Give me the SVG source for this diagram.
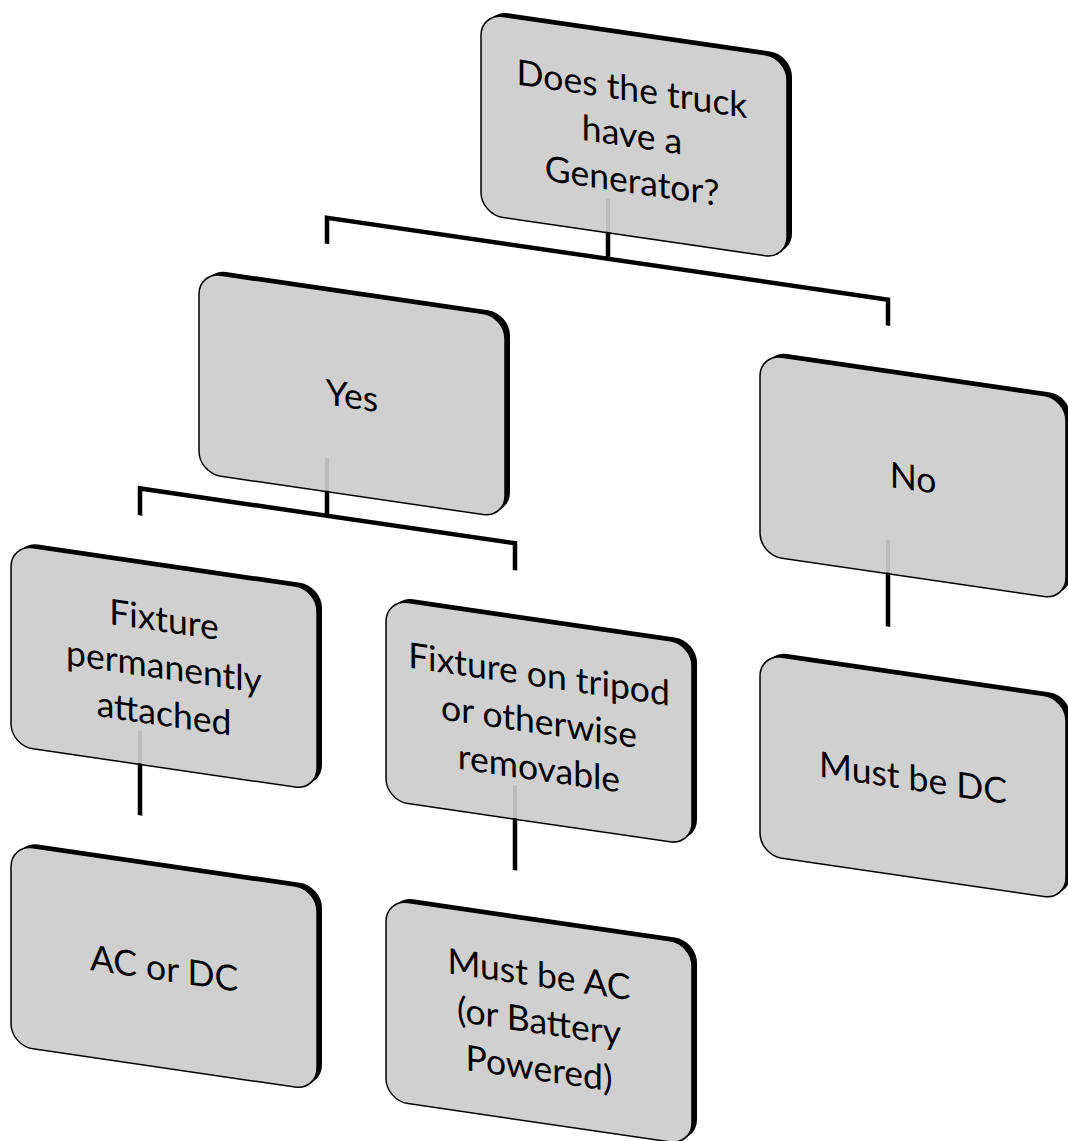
<svg xmlns="http://www.w3.org/2000/svg" width="1068" height="1141" viewBox="0 0 1068 1141">
<style>
.shadow{fill:#000}
.box{fill:#d0d0d0;stroke:#000;stroke-width:1.5}
.lbl{font-family:Lato,"Open Sans",sans-serif;font-size:35.5px;fill:#000;text-anchor:middle}
.conn{stroke:#000;stroke-width:4.5;fill:none;stroke-linejoin:miter}
.stub{stroke:#bcbcbc;stroke-width:4;fill:none}
</style>
<rect x="0" y="0" width="1068" height="1141" fill="#fff"/>
<g transform="skewY(8.31)">
  <g id="n-root">
    <rect class="shadow" x="486" y="-61" width="306" height="201" rx="22"/>
    <rect class="box" x="481" y="-57" width="306" height="201" rx="22"/>
    <text class="lbl" x="632" y="9">Does the truck</text>
    <text class="lbl" x="632" y="55">have a</text>
    <text class="lbl" x="632" y="101">Generator?</text>
  </g>
  <g id="n-yes">
    <rect class="shadow" x="204" y="239" width="306" height="201" rx="22"/>
    <rect class="box" x="199" y="243" width="306" height="201" rx="22"/>
    <text class="lbl" x="352" y="357">Yes</text>
  </g>
  <g id="n-no">
    <rect class="shadow" x="765" y="239" width="306" height="201" rx="22"/>
    <rect class="box" x="760" y="243" width="306" height="201" rx="22"/>
    <text class="lbl" x="913" y="357">No</text>
  </g>
  <g id="n-fixed">
    <rect class="shadow" x="16" y="539" width="306" height="201" rx="22"/>
    <rect class="box" x="11" y="543" width="306" height="201" rx="22"/>
    <text class="lbl" x="164" y="608">Fixture</text>
    <text class="lbl" x="164" y="655">permanently</text>
    <text class="lbl" x="164" y="702">attached</text>
  </g>
  <g id="n-tripod">
    <rect class="shadow" x="391" y="539" width="306" height="201" rx="22"/>
    <rect class="box" x="386" y="543" width="306" height="201" rx="22"/>
    <text class="lbl" x="539" y="608">Fixture on tripod</text>
    <text class="lbl" x="539" y="655">or otherwise</text>
    <text class="lbl" x="539" y="702">removable</text>
  </g>
  <g id="n-mustdc">
    <rect class="shadow" x="765" y="539" width="306" height="201" rx="22"/>
    <rect class="box" x="760" y="543" width="306" height="201" rx="22"/>
    <text class="lbl" x="913" y="657">Must be DC</text>
  </g>
  <g id="n-acdc">
    <rect class="shadow" x="16" y="839" width="306" height="201" rx="22"/>
    <rect class="box" x="11" y="843" width="306" height="201" rx="22"/>
    <text class="lbl" x="164" y="957">AC or DC</text>
  </g>
  <g id="n-mustac">
    <rect class="shadow" x="391" y="839" width="306" height="201" rx="22"/>
    <rect class="box" x="386" y="843" width="306" height="201" rx="22"/>
    <text class="lbl" x="539" y="908">Must be AC</text>
    <text class="lbl" x="539" y="955">(or Battery</text>
    <text class="lbl" x="539" y="1002">Powered)</text>
  </g>
  <g id="connectors">
    <path class="stub" d="M608 110 V143"/>
    <path class="conn" d="M608 143 V170 M327 196 V170 H888 V196"/>
    <path class="stub" d="M327 410 V443"/>
    <path class="conn" d="M327 443 V468 M140 495 V468 H515 V495"/>
    <path class="stub" d="M888 410 V443"/>
    <path class="conn" d="M888 443 V497"/>
    <path class="stub" d="M140 710 V743"/>
    <path class="conn" d="M140 743 V795"/>
    <path class="stub" d="M515 710 V743"/>
    <path class="conn" d="M515 743 V795"/>
  </g>
</g>
</svg>
